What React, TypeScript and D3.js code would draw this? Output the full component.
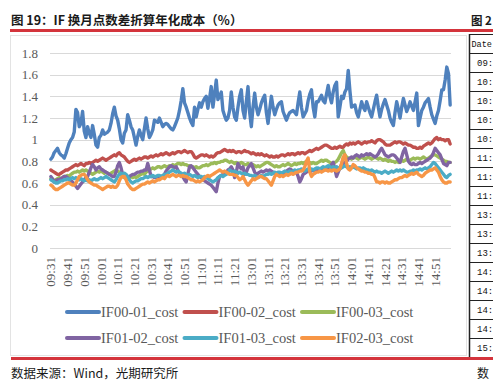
import React from "react";
import * as d3 from "d3";

// ---------- data ----------
const tickLabels = [
  "09:31","09:41","09:51","10:01","10:11","10:21","10:31","10:41","10:51","11:01","11:11","11:21",
  "13:01","13:11","13:21","13:31","13:41","13:51","14:01","14:11","14:21","14:31","14:41","14:51",
];

function buildCategories(): string[] {
  const out: string[] = [];
  const pad = (n: number) => (n < 10 ? "0" + n : "" + n);
  const push = (from: number, to: number) => {
    for (let m = from; m <= to; m++) out.push(pad(Math.floor(m / 60)) + ":" + pad(m % 60));
  };
  push(9 * 60 + 31, 11 * 60 + 30);
  push(13 * 60 + 1, 15 * 60);
  return out;
}
const categories = buildCategories();

const if0001 = [
  0.82,0.84,0.88,0.90,0.92,0.88,0.86,0.85,0.83,0.87,
  0.92,0.97,1.00,1.02,1.07,1.28,1.25,1.12,1.15,1.26,
  1.08,1.02,1.12,1.06,1.02,1.13,1.05,0.95,0.93,1.02,
  1.04,1.09,1.05,1.06,1.07,1.09,1.15,1.24,1.30,1.22,
  1.18,1.10,1.00,0.97,1.06,1.09,1.23,1.18,1.12,1.09,
  1.02,0.95,1.03,1.09,1.04,1.00,1.10,1.20,1.10,1.02,
  1.05,1.09,1.18,1.17,1.16,1.20,1.16,1.12,1.14,1.15,
  1.14,1.12,1.10,1.09,1.12,1.16,1.20,1.27,1.36,1.47,
  1.34,1.30,1.25,1.20,1.16,1.13,1.30,1.21,1.28,1.34,
  1.30,1.35,1.38,1.40,1.29,1.38,1.49,1.30,1.42,1.55,
  1.37,1.40,1.44,1.27,1.22,1.18,1.20,1.27,1.44,1.30,
  1.21,1.18,1.30,1.40,1.46,1.27,1.20,1.35,1.49,1.25,
  1.12,1.30,1.43,1.30,1.23,1.28,1.34,1.38,1.41,1.25,
  1.15,1.28,1.40,1.30,1.23,1.28,1.32,1.34,1.35,1.26,
  1.22,1.18,1.22,1.25,1.26,1.27,1.25,1.23,1.34,1.44,
  1.30,1.21,1.24,1.27,1.36,1.42,1.46,1.30,1.21,1.35,
  1.35,1.38,1.41,1.36,1.34,1.42,1.50,1.40,1.34,1.44,
  1.50,1.53,1.21,1.30,1.40,1.38,1.44,1.47,1.64,1.45,
  1.30,1.31,1.32,1.25,1.21,1.28,1.35,1.30,1.27,1.35,
  1.30,1.25,1.21,1.28,1.35,1.41,1.30,1.21,1.28,1.33,
  1.37,1.32,1.27,1.20,1.16,1.13,1.25,1.35,1.28,1.20,
  1.30,1.38,1.32,1.26,1.30,1.35,1.31,1.27,1.35,1.43,
  1.13,1.20,1.27,1.30,1.34,1.36,1.38,1.30,1.23,1.19,
  1.15,1.22,1.27,1.36,1.46,1.46,1.55,1.67,1.61,1.32,
];

const if0002 = [
  0.72,0.71,0.70,0.69,0.68,0.68,0.69,0.70,0.71,0.72,
  0.72,0.73,0.74,0.75,0.76,0.77,0.76,0.77,0.78,0.77,
  0.76,0.78,0.78,0.79,0.78,0.79,0.80,0.81,0.80,0.81,
  0.82,0.83,0.82,0.81,0.82,0.83,0.84,0.85,0.86,0.85,
  0.87,0.88,0.86,0.85,0.84,0.82,0.80,0.79,0.80,0.81,
  0.82,0.81,0.82,0.83,0.82,0.83,0.84,0.84,0.83,0.84,
  0.85,0.84,0.85,0.86,0.85,0.86,0.87,0.86,0.87,0.88,
  0.87,0.86,0.87,0.88,0.87,0.88,0.89,0.89,0.88,0.89,
  0.90,0.89,0.88,0.89,0.89,0.87,0.84,0.83,0.84,0.85,
  0.86,0.86,0.85,0.86,0.85,0.84,0.85,0.84,0.85,0.87,
  0.88,0.88,0.89,0.90,0.91,0.90,0.89,0.90,0.89,0.90,
  0.89,0.88,0.89,0.89,0.88,0.89,0.90,0.89,0.89,0.88,
  0.87,0.88,0.87,0.86,0.87,0.86,0.87,0.86,0.85,0.86,
  0.85,0.84,0.85,0.84,0.84,0.85,0.84,0.85,0.86,0.86,
  0.85,0.86,0.87,0.86,0.87,0.87,0.86,0.87,0.88,0.87,
  0.88,0.88,0.87,0.88,0.89,0.90,0.89,0.90,0.91,0.92,
  0.91,0.92,0.93,0.94,0.95,0.95,0.94,0.93,0.92,0.92,
  0.93,0.92,0.93,0.94,0.93,0.93,0.95,0.96,0.95,0.97,
  0.96,0.97,0.96,0.97,0.98,0.97,0.96,0.97,0.98,0.97,
  0.98,0.98,0.99,0.98,0.97,0.99,1.00,1.00,0.99,0.98,
  0.96,0.95,0.95,0.95,0.96,0.97,0.98,0.97,0.98,0.98,
  0.97,0.96,0.97,0.96,0.95,0.95,0.94,0.93,0.93,0.92,
  0.92,0.93,0.92,0.94,0.95,0.96,0.97,0.96,0.97,0.99,
  1.01,1.02,1.00,1.01,1.00,1.00,0.99,1.00,1.00,0.96,
];

const if0003 = [
  0.64,0.63,0.62,0.63,0.64,0.65,0.64,0.65,0.66,0.66,
  0.67,0.66,0.68,0.69,0.70,0.70,0.71,0.70,0.71,0.72,
  0.71,0.72,0.71,0.70,0.69,0.68,0.69,0.70,0.71,0.70,
  0.71,0.70,0.69,0.70,0.69,0.68,0.69,0.70,0.71,0.72,
  0.71,0.70,0.68,0.66,0.65,0.65,0.64,0.65,0.66,0.65,
  0.66,0.65,0.66,0.67,0.68,0.69,0.68,0.70,0.71,0.72,
  0.73,0.74,0.73,0.74,0.75,0.75,0.74,0.75,0.76,0.75,
  0.75,0.76,0.75,0.77,0.76,0.77,0.78,0.78,0.77,0.78,
  0.77,0.77,0.76,0.76,0.75,0.75,0.74,0.75,0.74,0.74,
  0.75,0.76,0.76,0.77,0.76,0.77,0.78,0.78,0.79,0.78,
  0.79,0.79,0.80,0.80,0.81,0.81,0.80,0.79,0.80,0.79,
  0.78,0.79,0.78,0.78,0.79,0.78,0.77,0.77,0.78,0.77,
  0.76,0.77,0.76,0.75,0.76,0.75,0.76,0.77,0.78,0.79,
  0.79,0.78,0.77,0.76,0.75,0.76,0.75,0.75,0.76,0.77,
  0.76,0.77,0.78,0.77,0.76,0.77,0.78,0.77,0.78,0.78,
  0.79,0.78,0.79,0.80,0.79,0.79,0.78,0.79,0.78,0.78,
  0.79,0.80,0.81,0.80,0.81,0.81,0.80,0.79,0.78,0.78,
  0.79,0.80,0.82,0.85,0.88,0.90,0.86,0.84,0.83,0.83,
  0.82,0.83,0.84,0.83,0.82,0.83,0.84,0.83,0.82,0.83,
  0.84,0.83,0.82,0.83,0.84,0.83,0.82,0.83,0.82,0.81,
  0.82,0.81,0.80,0.81,0.80,0.80,0.79,0.80,0.79,0.80,
  0.81,0.80,0.81,0.82,0.81,0.81,0.82,0.83,0.82,0.83,
  0.83,0.82,0.83,0.84,0.83,0.82,0.83,0.84,0.85,0.86,
  0.86,0.85,0.84,0.83,0.82,0.81,0.80,0.80,0.79,0.79,
];

const if0102 = [
  0.66,0.64,0.61,0.62,0.63,0.63,0.64,0.65,0.66,0.66,
  0.65,0.63,0.62,0.61,0.59,0.57,0.55,0.57,0.59,0.61,
  0.63,0.65,0.66,0.70,0.74,0.77,0.75,0.72,0.74,0.75,
  0.73,0.72,0.71,0.70,0.69,0.68,0.67,0.66,0.66,0.70,
  0.76,0.79,0.74,0.68,0.66,0.65,0.65,0.66,0.67,0.68,
  0.68,0.69,0.70,0.70,0.71,0.71,0.72,0.72,0.78,0.72,
  0.66,0.66,0.65,0.65,0.66,0.65,0.66,0.66,0.68,0.71,
  0.73,0.75,0.76,0.75,0.74,0.75,0.72,0.69,0.67,0.66,
  0.63,0.61,0.68,0.75,0.76,0.74,0.72,0.70,0.68,0.66,
  0.65,0.64,0.62,0.61,0.60,0.59,0.58,0.56,0.54,0.52,
  0.60,0.66,0.67,0.68,0.69,0.70,0.72,0.73,0.75,0.72,
  0.65,0.70,0.78,0.75,0.73,0.75,0.68,0.70,0.74,0.76,
  0.78,0.74,0.70,0.68,0.69,0.70,0.71,0.70,0.71,0.72,
  0.71,0.72,0.71,0.70,0.69,0.68,0.69,0.68,0.69,0.68,
  0.70,0.71,0.72,0.73,0.72,0.71,0.70,0.70,0.66,0.61,
  0.64,0.68,0.69,0.70,0.71,0.72,0.71,0.72,0.71,0.72,
  0.73,0.72,0.71,0.72,0.73,0.72,0.73,0.75,0.77,0.79,
  0.73,0.66,0.70,0.74,0.77,0.78,0.79,0.80,0.82,0.83,
  0.84,0.83,0.85,0.86,0.85,0.84,0.86,0.85,0.86,0.87,
  0.86,0.87,0.86,0.85,0.84,0.85,0.87,0.90,0.92,0.89,
  0.86,0.85,0.84,0.85,0.86,0.86,0.85,0.83,0.81,0.79,
  0.84,0.89,0.92,0.86,0.80,0.78,0.77,0.78,0.77,0.77,
  0.78,0.79,0.78,0.79,0.80,0.81,0.82,0.83,0.85,0.88,
  0.92,0.90,0.88,0.86,0.82,0.78,0.77,0.76,0.79,0.79,
];

const if0103 = [
  0.63,0.62,0.61,0.60,0.60,0.61,0.62,0.62,0.63,0.63,
  0.64,0.63,0.64,0.65,0.64,0.65,0.64,0.63,0.64,0.63,
  0.62,0.63,0.62,0.63,0.62,0.63,0.64,0.63,0.63,0.64,
  0.65,0.64,0.65,0.66,0.65,0.64,0.63,0.62,0.61,0.63,
  0.66,0.68,0.69,0.68,0.69,0.68,0.66,0.63,0.61,0.60,
  0.61,0.62,0.62,0.63,0.64,0.64,0.65,0.66,0.65,0.66,
  0.66,0.67,0.66,0.66,0.67,0.67,0.66,0.67,0.68,0.68,
  0.69,0.70,0.71,0.72,0.71,0.70,0.71,0.70,0.69,0.68,
  0.69,0.68,0.67,0.68,0.67,0.66,0.67,0.66,0.65,0.66,
  0.66,0.65,0.66,0.65,0.64,0.63,0.62,0.61,0.62,0.63,
  0.65,0.66,0.67,0.66,0.67,0.68,0.69,0.72,0.71,0.70,
  0.71,0.70,0.69,0.70,0.69,0.68,0.69,0.68,0.68,0.67,
  0.67,0.66,0.67,0.66,0.65,0.66,0.67,0.66,0.67,0.68,
  0.68,0.69,0.68,0.69,0.70,0.69,0.70,0.70,0.69,0.70,
  0.71,0.70,0.70,0.71,0.70,0.71,0.72,0.71,0.72,0.72,
  0.73,0.72,0.71,0.72,0.73,0.72,0.73,0.72,0.73,0.74,
  0.74,0.73,0.74,0.75,0.74,0.75,0.76,0.75,0.74,0.75,
  0.74,0.75,0.74,0.73,0.74,0.75,0.76,0.75,0.74,0.75,
  0.74,0.75,0.74,0.73,0.74,0.74,0.73,0.74,0.73,0.72,
  0.72,0.71,0.72,0.71,0.70,0.71,0.70,0.70,0.69,0.70,
  0.71,0.70,0.69,0.70,0.71,0.70,0.71,0.72,0.71,0.72,
  0.71,0.72,0.71,0.70,0.70,0.71,0.71,0.72,0.71,0.72,
  0.72,0.73,0.72,0.73,0.74,0.73,0.74,0.75,0.77,0.79,
  0.78,0.76,0.74,0.72,0.70,0.68,0.66,0.65,0.67,0.68,
];

const if0203 = [
  0.58,0.57,0.55,0.54,0.54,0.55,0.56,0.57,0.58,0.59,
  0.60,0.60,0.59,0.58,0.58,0.60,0.63,0.66,0.67,0.68,
  0.68,0.66,0.63,0.61,0.60,0.59,0.58,0.58,0.57,0.56,
  0.55,0.54,0.55,0.56,0.57,0.57,0.56,0.57,0.56,0.56,
  0.58,0.62,0.65,0.66,0.66,0.63,0.59,0.57,0.55,0.54,
  0.54,0.55,0.56,0.57,0.58,0.59,0.59,0.60,0.61,0.60,
  0.61,0.62,0.61,0.62,0.63,0.63,0.64,0.65,0.64,0.66,
  0.67,0.66,0.67,0.68,0.67,0.66,0.67,0.67,0.66,0.67,
  0.66,0.66,0.65,0.64,0.63,0.63,0.62,0.61,0.62,0.61,
  0.62,0.63,0.65,0.66,0.67,0.66,0.67,0.68,0.69,0.70,
  0.71,0.72,0.71,0.70,0.71,0.70,0.69,0.68,0.68,0.68,
  0.67,0.67,0.65,0.63,0.64,0.66,0.63,0.60,0.58,0.60,
  0.62,0.64,0.63,0.64,0.65,0.66,0.66,0.65,0.64,0.64,
  0.62,0.60,0.58,0.62,0.66,0.68,0.67,0.66,0.67,0.66,
  0.67,0.68,0.67,0.68,0.69,0.68,0.69,0.70,0.70,0.71,
  0.71,0.72,0.75,0.80,0.83,0.70,0.66,0.68,0.69,0.70,
  0.70,0.71,0.70,0.71,0.72,0.72,0.71,0.72,0.71,0.72,
  0.72,0.71,0.72,0.73,0.78,0.84,0.86,0.78,0.73,0.72,
  0.74,0.77,0.76,0.74,0.73,0.72,0.71,0.71,0.70,0.70,
  0.69,0.69,0.68,0.68,0.65,0.61,0.61,0.60,0.61,0.61,
  0.60,0.61,0.60,0.60,0.61,0.62,0.63,0.63,0.64,0.65,
  0.65,0.66,0.67,0.66,0.67,0.68,0.69,0.68,0.69,0.70,
  0.68,0.67,0.66,0.67,0.69,0.70,0.71,0.72,0.72,0.73,
  0.74,0.72,0.70,0.66,0.63,0.61,0.60,0.60,0.61,0.61,
];

const seriesNames = ["IF00-01_cost","IF00-02_cost","IF00-03_cost","IF01-02_cost","IF01-03_cost","IF02-03_cost"];
const seriesValues = [if0001, if0002, if0003, if0102, if0103, if0203];
const seriesColors = ["#4F81BD","#C0504D","#9BBB59","#8064A2","#4BACC6","#F79646"];
const yTicks = [0, 0.2, 0.4, 0.6, 0.8, 1, 1.2, 1.4, 1.6, 1.8];
const tableRows = ["09:","10:","10:","10:","10:","11:","11:","11:","13:","13:","13:","14:","14:","14:","14:","15:"];

// ---------- layout ----------
const W = 493, H = 381;
const plot = { left: 50, right: 451, top: 53, bottom: 248 };
const serif = "'Liberation Serif', 'Times New Roman', serif";
const cjk = "'Noto Sans CJK SC', sans-serif";
const mono = "'Liberation Mono', 'DejaVu Sans Mono', monospace";
const axisGray = "#595959";
const red = "#D4343C";

export default function App() {
  const x = d3.scaleBand<string>().domain(categories).range([plot.left, plot.right]).paddingInner(0).paddingOuter(0);
  const cx = (c: string) => (x(c) as number) + x.bandwidth() / 2;
  const y = d3.scaleLinear().domain([0, 1.8]).range([plot.bottom, plot.top]);
  const line = d3
    .line<number>()
    .x((_, i) => cx(categories[i]))
    .y((v) => y(v));

  const legendRows = [0, 1];
  return (
    <svg width={W} height={H} style={{ position: "absolute", left: 0, top: 0, background: "#fff" }}
      xmlns="http://www.w3.org/2000/svg">
      <rect x={0} y={0} width={W} height={H} fill="#fff" />
      {/* header */}
      <text x={11} y={25} fontFamily={cjk} fontSize={12.5} fontWeight={700} fill="#1a1a1a">
        图 19：IF 换月点数差折算年化成本（%）
      </text>
      <text x={471} y={25} fontFamily={cjk} fontSize={11.5} fontWeight={700} fill="#1a1a1a">图 2</text>
      <rect x={10} y={29} width={W - 10} height={3} fill={red} />

      {/* chart frame */}
      <rect x={10.5} y={35.5} width={456} height={320} fill="none" stroke="#E3E3E3" strokeWidth={1} />

      {/* gridlines */}
      {yTicks.map((t) => (
        <line key={"g" + t} x1={plot.left} x2={plot.right} y1={Math.round(y(t)) + 0.5} y2={Math.round(y(t)) + 0.5}
          stroke="#D9D9D9" strokeWidth={1} />
      ))}
      {yTicks.map((t) => (
        <text key={"yl" + t} x={38} y={y(t)} dy="0.35em" textAnchor="end" fontFamily={serif} fontSize={13} fill={axisGray}>
          {d3.format("")(t)}
        </text>
      ))}
      {tickLabels.map((lab) => (
        <text key={"xl" + lab} transform={`translate(${cx(lab)},257) rotate(-90)`} textAnchor="end" dy="0.35em"
          fontFamily={serif} fontSize={13} fill={axisGray}>
          {lab}
        </text>
      ))}

      {/* series */}
      {seriesValues.map((vals, k) => (
        <path key={"s" + k} d={line(vals) || ""} fill="none" stroke={seriesColors[k]} strokeWidth={3.4}
          strokeLinejoin="round" strokeLinecap="round" />
      ))}

      {/* legend */}
      {legendRows.map((r) =>
        [0, 1, 2].map((c) => {
          const k = r * 3 + c;
          const lx = 67 + c * 117.5;
          const ly = r === 0 ? 312 : 338;
          return (
            <g key={"lg" + k}>
              <line x1={lx} x2={lx + 32} y1={ly} y2={ly} stroke={seriesColors[k]} strokeWidth={4} strokeLinecap="round" />
              <text x={lx + 34} y={ly} dy="0.35em" fontFamily={serif} fontSize={14.5} fill={axisGray}>
                {seriesNames[k]}
              </text>
            </g>
          );
        })
      )}

      {/* table on the right */}
      <g>
        <line x1={469.5} x2={469.5} y1={34} y2={357} stroke="#222" strokeWidth={1.5} />
        {d3.range(tableRows.length + 2).map((i) => (
          <line key={"tr" + i} x1={469} x2={W} y1={34.5 + i * 19} y2={34.5 + i * 19} stroke="#222" strokeWidth={1} />
        ))}
        <text x={471.5} y={44} dy="0.35em" fontFamily={mono} fontSize={8.5} fill="#111">Date</text>
        {tableRows.map((t, i) => (
          <text key={"tt" + i} x={477} y={44 + (i + 1) * 19} dy="0.35em" fontFamily={mono}
            fontSize={9} fill="#111">{t}</text>
        ))}
      </g>

      <rect x={11} y={357} width={W - 11} height={3} fill={red} />
      <text x={11} y={378} fontFamily={cjk} fontSize={12.5} fill="#1a1a1a">数据来源：Wind，光期研究所</text>
      <text x={477} y={378} fontFamily={cjk} fontSize={12} fill="#1a1a1a">数</text>
    </svg>
  );
}
